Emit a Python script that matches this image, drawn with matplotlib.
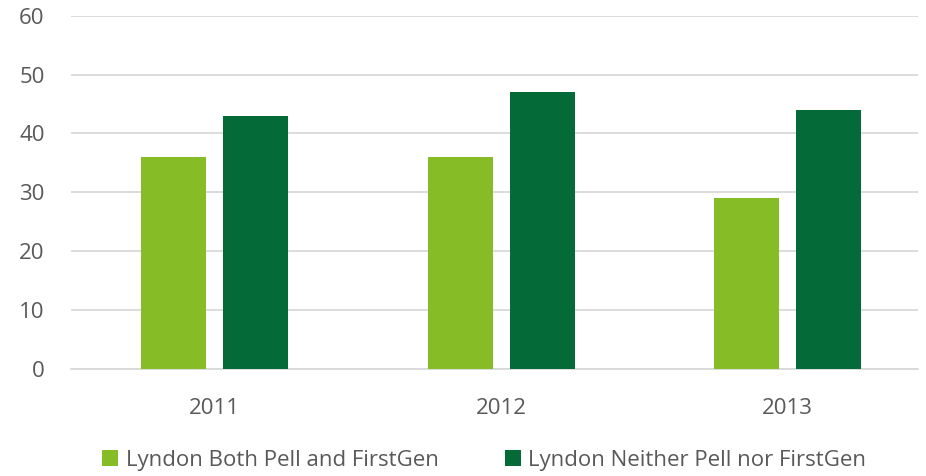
import matplotlib
matplotlib.use("Agg")
import matplotlib.pyplot as plt
import numpy as np

years = ["2011", "2012", "2013"]
both_pell_firstgen = [36, 36, 29]
neither_pell_firstgen = [43, 47, 44]

light_green = "#86BC25"
dark_green = "#046A38"
text_grey = "#595959"

plt.rcParams['font.family'] = ['Open Sans', 'DejaVu Sans']

fig = plt.figure(figsize=(9.26, 4.76), dpi=100)
ax = fig.add_axes([0.0767, 0.2248, 0.9143, 0.7422])

x = np.arange(len(years))
w = 0.227
off = 0.143
ax.bar(x - off, both_pell_firstgen, w, color=light_green, label="Lyndon Both Pell and FirstGen", zorder=3)
ax.bar(x + off, neither_pell_firstgen, w, color=dark_green, label="Lyndon Neither Pell nor FirstGen", zorder=3)

ax.set_xlim(-0.5, 2.453)
ax.set_ylim(0, 60)
ax.set_yticks(range(0, 61, 10))
ax.set_xticks(x)
ax.set_xticklabels(years)
ax.yaxis.grid(True, color="#D9D9D9", linewidth=1.3, zorder=0)
for s in ["top", "right", "left"]:
    ax.spines[s].set_visible(False)
ax.spines["bottom"].set_color("#D9D9D9")
ax.spines["bottom"].set_linewidth(1.3)
ax.tick_params(axis="both", length=0, labelsize=16, labelcolor=text_grey)
ax.tick_params(axis="x", pad=21)
ax.tick_params(axis="y", pad=19)

fig.legend(loc="center", bbox_to_anchor=(0.523, 0.033), ncol=2, frameon=False,
           fontsize=16, labelcolor=text_grey, handlelength=0.7, handleheight=0.7,
           handletextpad=0.35, columnspacing=3.0)

fig.savefig("out.png", dpi=100)
